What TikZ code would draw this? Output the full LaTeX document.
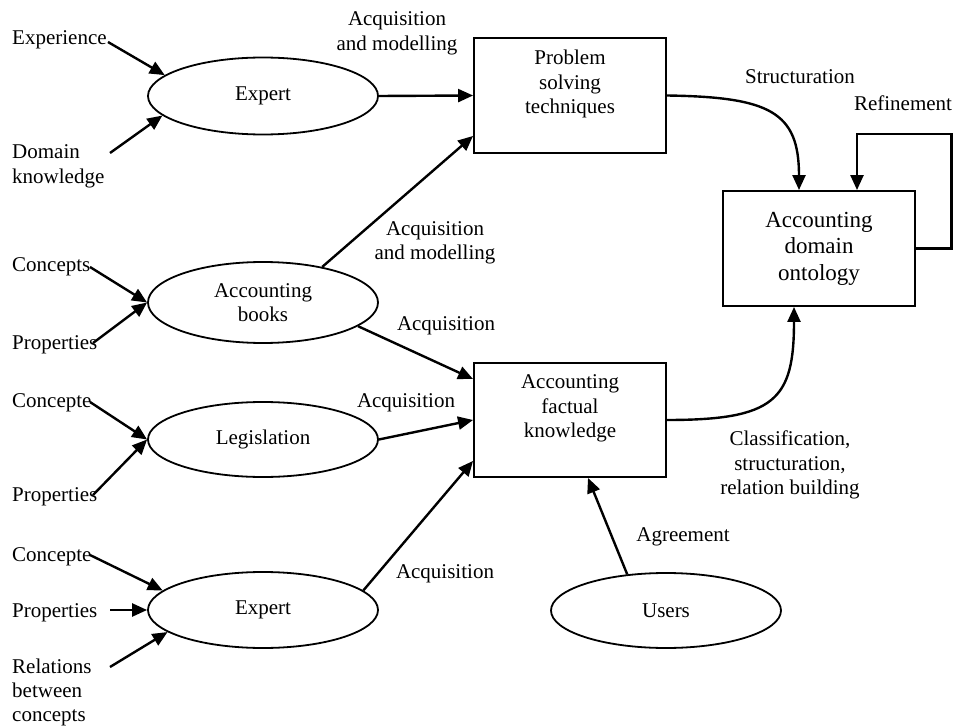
\documentclass[tikz,border=0pt]{standalone}
\usepackage{fontspec}
\setmainfont{Liberation Serif}
\usetikzlibrary{arrows.meta,shapes.geometric}
\begin{document}
\begin{tikzpicture}[x=1pt,y=-1pt,
  txt/.style={font=\fontsize{21}{24.5}\selectfont, inner sep=0pt, align=center},
  lft/.style={txt, align=left, anchor=west},
  oval/.style={ellipse, draw, line width=1.8pt, inner sep=0pt, minimum width=230pt, font=\fontsize{21}{24.5}\selectfont, align=center},
  box/.style={rectangle, draw, line width=1.9pt, inner sep=0pt, minimum width=192pt},
  arr/.style={line width=2.4pt, -{Triangle[length=15pt,width=13pt]}}
]
\useasboundingbox (0,0) rectangle (953,727);

% ellipses
\node[oval, minimum height=77pt] (E1) at (263,96) {Expert};
\node[oval, minimum height=81pt] (B) at (263,302.5) {Accounting\\books};
\node[oval, minimum height=75pt] (L) at (263,439.5) {Legislation};
\node[oval, minimum height=76pt] (E2) at (263,610) {Expert};
\node[oval, minimum height=75pt] (U) at (666,610.5) {Users};

% boxes
\node[box, minimum height=115pt] (PS) at (570,95.5) {};
\node[txt] (PSt) at (570,84) {Problem\\solving\\techniques};
\node[box, minimum height=114pt] (FK) at (570,420) {};
\node[txt] (FKt) at (570,408.5) {Accounting\\factual\\knowledge};
\node[box, minimum height=115pt, font=\fontsize{23}{26.5}\selectfont, align=center] (ON) at (819,248.5) {Accounting\\domain\\ontology};

% left labels
\node[lft] (tExp) at (12,40) {Experience};
\node[lft] (tDom) at (12,166.5) {Domain\\knowledge};
\node[lft] (tC1) at (12,267) {Concepts};
\node[lft] (tP1) at (12,345) {Properties};
\node[lft] (tC2) at (12,403) {Concepte};
\node[lft] (tP2) at (12,497) {Properties};
\node[lft] (tC3) at (12,557) {Concepte};
\node[lft] (tP3) at (12,613) {Properties};
\node[lft, font=\fontsize{21}{24}\selectfont] (tRel) at (12,692.5) {Relations\\between\\concepts};

% connector labels
\node[txt] (l1) at (397,33.5) {Acquisition\\and modelling};
\node[txt] (l2) at (435,243) {Acquisition\\and modelling};
\node[txt] (l3) at (446,326) {Acquisition};
\node[txt] (l4) at (406,403) {Acquisition};
\node[txt] (l5) at (445,574) {Acquisition};
\node[txt] (l6) at (800,77) {Structuration};
\node[txt] (l7) at (903,103) {Refinement};
\node[txt] (l8) at (790,465) {Classification,\\structuration,\\relation building};
\node[txt] (l9) at (683,537) {Agreement};

% free ends
\coordinate (cExp) at (108,42);
\coordinate (cDom) at (110,153);
\coordinate (cC1) at (90,267);
\coordinate (cP1) at (93,343);
\coordinate (cC2) at (90,402);
\coordinate (cP2) at (93,495);
\coordinate (cC3) at (90,555);
\coordinate (cP3) at (110,610);
\coordinate (cRel) at (110,667);
\coordinate (r1) at (951.5,134);

% inputs
\draw[arr] (cExp) -- (E1.168);
\draw[arr] (cDom) -- (E1.191);
\draw[arr] (cC1) -- (B.west);
\draw[arr] (cP1) -- (B.west);
\draw[arr] (cC2) -- (L.west);
\draw[arr] (cP2) -- (L.west);
\draw[arr] (cC3) -- (E2.169);
\draw[arr] (cP3) -- (E2.west);
\draw[arr] (cRel) -- (E2.193);

% flows
\draw[arr] (E1.east) -- (PS.west);
\draw[arr] (B.31.5) -- ([yshift=18pt]PS.south west);
\draw[arr] (B.346.6) -- ([yshift=-17pt]FK.north west);
\draw[arr] (L.east) -- (FK.west);
\draw[arr] (E2.11.6) -- ([yshift=17pt]FK.south west);
\draw[arr] (U.137) -- ([xshift=18pt]FK.south);
\draw[arr] (PS.east) .. controls (770,97) and (799,112) .. ([xshift=-20pt]ON.north);
\draw[arr] (FK.east) .. controls (775,420) and (794,400) .. ([xshift=-25pt]ON.south);
\draw[arr] (ON.east) -| (r1) -| ([xshift=38pt]ON.north);
\end{tikzpicture}
\end{document}
